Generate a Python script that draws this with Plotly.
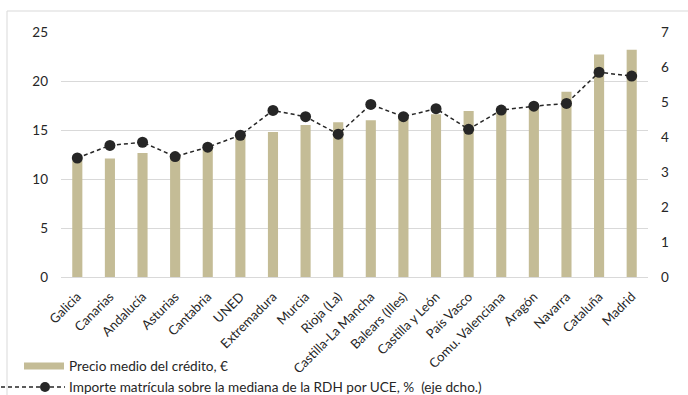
import plotly.graph_objects as go

categories = ["Galicia", "Canarias", "Andalucía", "Asturias", "Cantabria", "UNED",
              "Extremadura", "Murcia", "Rioja (La)", "Castilla-La Mancha", "Balears (Illes)",
              "Castilla y León", "País Vasco", "Comu. Valenciana", "Aragón", "Navarra",
              "Cataluña", "Madrid"]
precio_credito = [11.9, 12.1, 12.65, 12.5, 13.0, 14.4, 14.8, 15.5, 15.8, 16.0, 16.3,
                  16.6, 16.95, 17.2, 17.4, 18.9, 22.7, 23.2]
importe_rdh = [3.40, 3.76, 3.85, 3.44, 3.71, 4.05, 4.76, 4.58, 4.08, 4.93, 4.58,
               4.81, 4.22, 4.77, 4.88, 4.96, 5.85, 5.74]
left_ticks = [0, 5, 10, 15, 20, 25]
right_ticks = [0, 1, 2, 3, 4, 5, 6, 7]
legend_labels = ["Precio medio del crédito, €",
                 "Importe matrícula sobre la mediana de la RDH por UCE, %  (eje dcho.)"]

BAR_COLOR = "#c4bc96"
LINE_COLOR = "#262626"
FONT = "Lato"
TXT = "#262626"
DASH = "4px,3px"

fig = go.Figure()
fig.add_trace(go.Bar(x=categories, y=precio_credito, marker_color=BAR_COLOR,
                     marker_line_width=0, width=0.31, showlegend=False, yaxis="y"))
fig.add_trace(go.Scatter(x=categories, y=importe_rdh, mode="lines+markers", yaxis="y2",
                         line=dict(color=LINE_COLOR, width=1.5, dash=DASH),
                         marker=dict(color=LINE_COLOR, size=11), showlegend=False))

W, H = 688, 395
L, R, T, B = 61, 40, 32, 118
pw, ph = W - L - R, H - T - B

def px_x(px):
    return (px - L) / pw

def px_y(py):
    return (H - B - py) / ph

shapes = []
# outer border (top and left)
shapes.append(dict(type="line", xref="paper", yref="paper", x0=px_x(7), x1=px_x(700),
                   y0=px_y(11), y1=px_y(11), line=dict(color="#d9d9d9", width=1)))
shapes.append(dict(type="line", xref="paper", yref="paper", x0=px_x(7), x1=px_x(7),
                   y0=px_y(11), y1=px_y(400), line=dict(color="#d9d9d9", width=1)))
# legend: bar
shapes.append(dict(type="rect", xref="paper", yref="paper", x0=px_x(24), x1=px_x(64),
                   y0=px_y(369.5), y1=px_y(362.5), fillcolor=BAR_COLOR, line=dict(width=0)))
# legend: line
shapes.append(dict(type="line", xref="paper", yref="paper", x0=px_x(1), x1=px_x(65),
                   y0=px_y(387), y1=px_y(387),
                   line=dict(color=LINE_COLOR, width=1.5, dash=DASH)))
shapes.append(dict(type="circle", xref="paper", yref="paper", xsizemode="pixel",
                   ysizemode="pixel", xanchor=px_x(45), yanchor=px_y(387),
                   x0=-5, x1=5, y0=-5, y1=5, fillcolor=LINE_COLOR, line=dict(width=0)))

annotations = [
    dict(xref="paper", yref="paper", x=px_x(67), y=px_y(366), text=legend_labels[0],
         showarrow=False, xanchor="left", yanchor="middle",
         font=dict(family=FONT, size=13.6, color=TXT)),
    dict(xref="paper", yref="paper", x=px_x(67), y=px_y(387), text=legend_labels[1],
         showarrow=False, xanchor="left", yanchor="middle",
         font=dict(family=FONT, size=13.6, color=TXT)),
]

fig.update_layout(
    width=W, height=H,
    margin=dict(l=L, r=R, t=T, b=B, autoexpand=False),
    paper_bgcolor="white", plot_bgcolor="white",
    font=dict(family=FONT, size=13, color=TXT),
    bargap=0.69,
    xaxis=dict(tickangle=-45, tickfont=dict(size=13, color=TXT), showgrid=False,
               showline=True, linecolor="#d9d9d9", linewidth=1, ticks="",
               automargin=False, ticklabelstandoff=6, range=[-0.5, 17.5]),
    yaxis=dict(range=[0, 25], tickvals=left_ticks, showgrid=True, gridcolor="#d9d9d9",
               gridwidth=1, zeroline=False, ticks="", ticklabelstandoff=12,
               automargin=False, tickfont=dict(size=13.5, color=TXT)),
    yaxis2=dict(range=[0, 7], tickvals=right_ticks, overlaying="y", side="right",
                showgrid=False, zeroline=False, ticks="", ticklabelstandoff=12,
                automargin=False, tickfont=dict(size=13.5, color=TXT)),
    shapes=shapes,
    annotations=annotations,
)

fig.write_html("out.html")
